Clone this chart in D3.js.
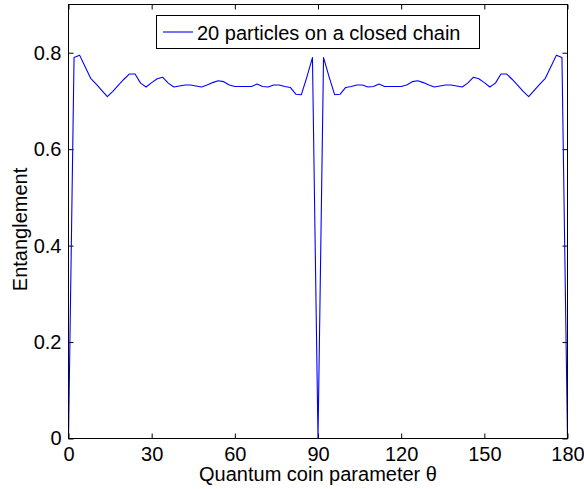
<!DOCTYPE html>
<html><head><meta charset="utf-8">
<script src="https://cdn.jsdelivr.net/npm/d3@7"></script>
<style>body{margin:0;background:#fff}svg{display:block}text{font-family:"Liberation Sans",Arial,sans-serif}</style>
</head><body>
<script>
const theta = d3.range(0, 181, 2);
const entanglement = [
 0, 0.790, 0.795, 0.771, 0.747, 0.735, 0.722, 0.709, 0.720, 0.733,
 0.745, 0.756, 0.756, 0.737, 0.729, 0.738, 0.746, 0.749, 0.737, 0.729,
 0.731, 0.733, 0.733, 0.731, 0.729, 0.733, 0.738, 0.742, 0.740, 0.733,
 0.730, 0.730, 0.730, 0.730, 0.735, 0.730, 0.729, 0.733, 0.733, 0.730,
 0.728, 0.714, 0.713, 0.750, 0.790, 0,
 0.790, 0.750, 0.713, 0.714, 0.728, 0.730, 0.733, 0.733, 0.729, 0.730,
 0.735, 0.730, 0.730, 0.730, 0.730, 0.733, 0.740, 0.742, 0.738, 0.733,
 0.729, 0.731, 0.733, 0.733, 0.731, 0.729, 0.737, 0.749, 0.746, 0.738,
 0.729, 0.737, 0.756, 0.756, 0.745, 0.733, 0.720, 0.709, 0.722, 0.735,
 0.747, 0.771, 0.795, 0.790, 0
];
const xTicks = [0, 30, 60, 90, 120, 150, 180];
const yTicks = [0, 0.2, 0.4, 0.6, 0.8];
const seriesName = "20 particles on a closed chain";
const xTitle = "Quantum coin parameter \u03b8";
const yTitle = "Entanglement";

const W = 584, H = 489;
const L = 68.5, R = 567.5, T = 4.5, B = 438.5;
const svg = d3.select("body").append("svg").attr("width", W).attr("height", H);
const x = d3.scaleLinear().domain([0, 180]).range([L, R]);
const y = d3.scaleLinear().domain([0, 0.9]).range([B, T]);

svg.append("rect").attr("x", L).attr("y", T).attr("width", R - L).attr("height", B - T)
  .attr("fill", "#fff");

const fs = 20;
const tl = 5;
const gb = svg.append("g").attr("transform", `translate(0,${B})`)
  .call(d3.axisBottom(x).tickValues(xTicks).tickSize(-tl).tickPadding(8).tickFormat(d3.format("d")));
const gt = svg.append("g").attr("transform", `translate(0,${T})`)
  .call(d3.axisTop(x).tickValues(xTicks).tickSize(-tl).tickFormat(""));
const gl = svg.append("g").attr("transform", `translate(${L},0)`)
  .call(d3.axisLeft(y).tickValues(yTicks).tickSize(-tl).tickPadding(8).tickFormat(d => d === 0 ? "0" : d3.format(".1f")(d)));
const gr = svg.append("g").attr("transform", `translate(${R},0)`)
  .call(d3.axisRight(y).tickValues(yTicks).tickSize(-tl).tickFormat(""));
[gb, gt, gl, gr].forEach(g => {
  g.select(".domain").remove();
  g.selectAll(".tick line").attr("stroke", "#000").attr("stroke-width", 1);
  g.selectAll("text").attr("font-size", fs).attr("fill", "#000")
    .style("font-family", '"Liberation Sans",Arial,sans-serif');
});
gl.selectAll("text").attr("dx", "1");

svg.append("path")
  .datum(theta.map((t, i) => [t, entanglement[i]]))
  .attr("fill", "none").attr("stroke", "#0000ff").attr("stroke-width", 1.1)
  .attr("stroke-linejoin", "round")
  .attr("d", d3.line().x(d => x(d[0])).y(d => y(d[1])));

svg.append("rect").attr("x", L).attr("y", T).attr("width", R - L).attr("height", B - T)
  .attr("fill", "none").attr("stroke", "#000").attr("stroke-width", 1);

svg.append("text").attr("x", (L + R) / 2).attr("y", 481).attr("text-anchor", "middle")
  .attr("font-size", fs).text(xTitle);
svg.append("text").attr("transform", `translate(27,${(T + B) / 2 + 8}) rotate(-90)`)
  .attr("text-anchor", "middle").attr("font-size", fs).text(yTitle);

const lg = svg.append("g");
lg.append("rect").attr("x", 156.5).attr("y", 15.5).attr("width", 323).attr("height", 33)
  .attr("fill", "#fff").attr("stroke", "#000").attr("stroke-width", 1);
lg.append("line").attr("x1", 163).attr("x2", 193).attr("y1", 32).attr("y2", 32)
  .attr("stroke", "#0000ff").attr("stroke-width", 1.1);
lg.append("text").attr("x", 197).attr("y", 39.5).attr("font-size", fs).text(seriesName);
</script>
</body></html>
